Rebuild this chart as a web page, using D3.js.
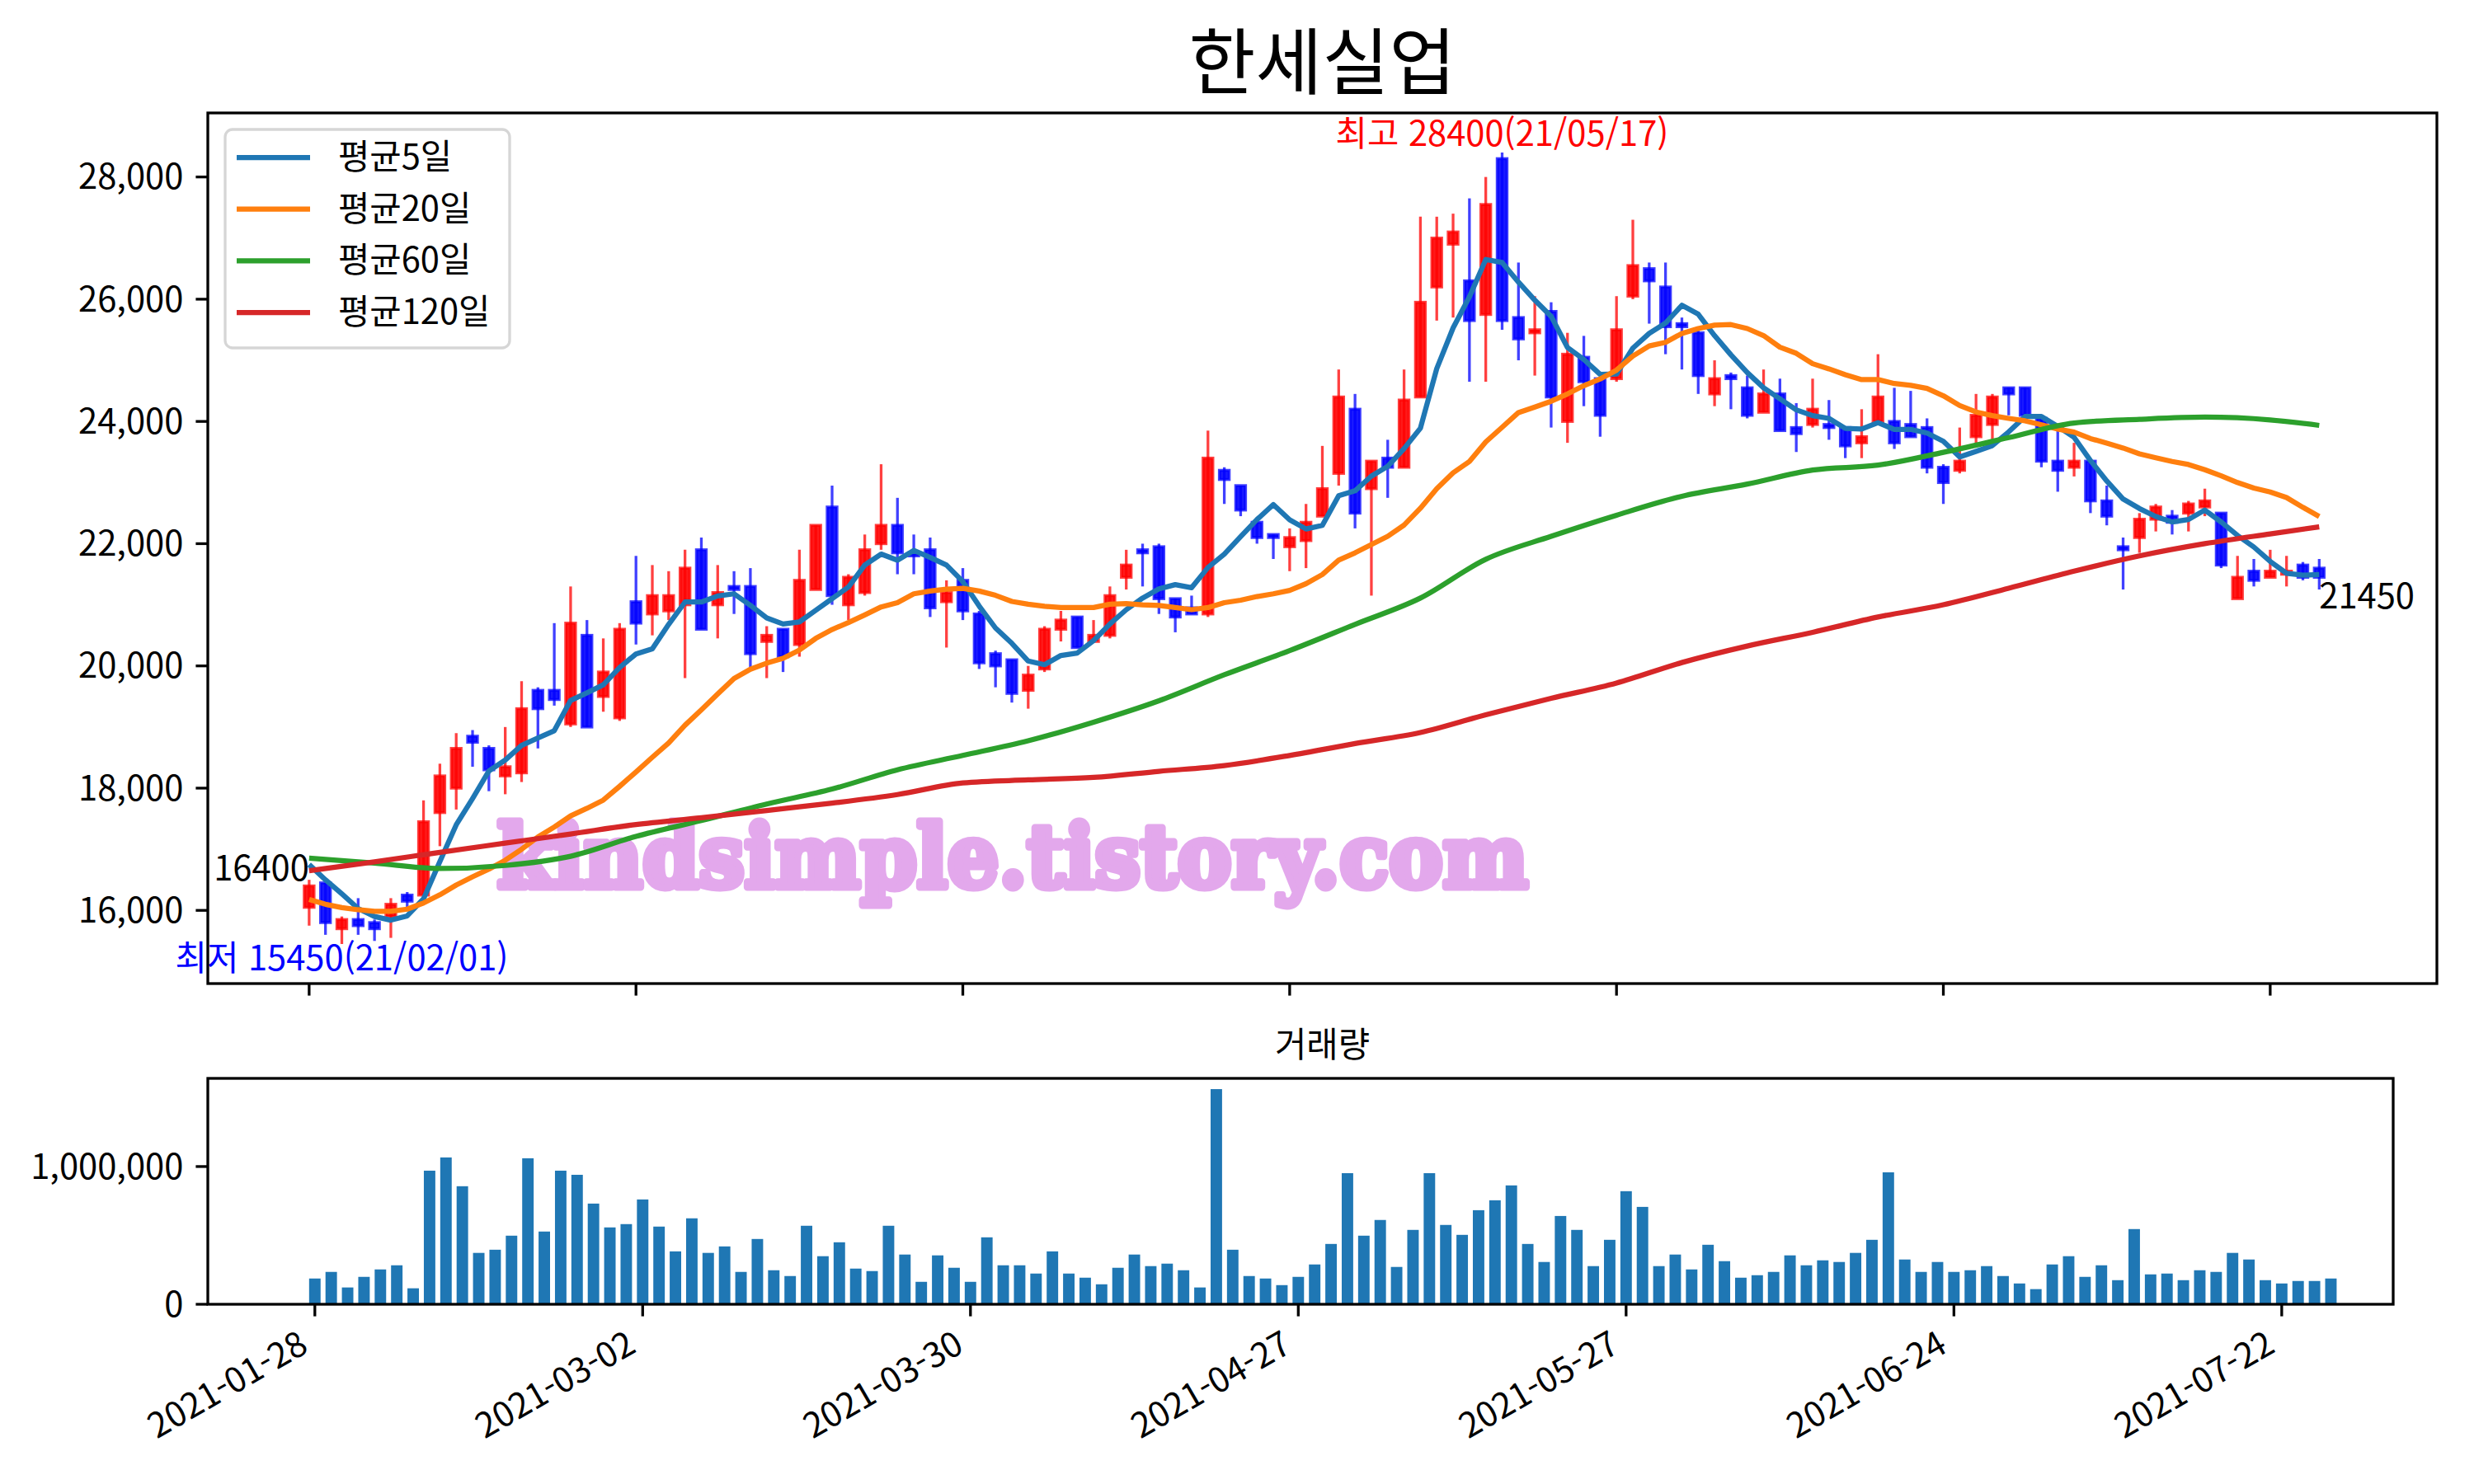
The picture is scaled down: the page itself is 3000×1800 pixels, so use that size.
<!DOCTYPE html>
<html lang="ko">
<head>
<meta charset="UTF-8">
<title>한세실업</title>
<script src="https://d3js.org/d3.v7.min.js"></script>
<style>
  body { margin: 0; background: #fff; }
  text { font-family: "Noto Sans CJK KR", "Noto Sans", sans-serif; }
</style>
</head>
<body>
<svg width="3000" height="1800"></svg>
<script>
// daily candles, 2021-01-28 .. 2021-07-27 (index 0..123)
const opens = [16050,16450,15700,15850,15800,15900,16250,16250,17600,18000,
  18850,18650,18200,18250,19600,19600,19050,20500,19500,19150,
  21050,20850,20900,21000,21900,21000,21300,21300,20400,20600,
  20350,21250,22600,21000,21200,22000,22300,21850,21900,21050,
  21400,20850,20200,20100,19600,19950,20600,20800,20400,20500,
  21450,21900,21950,21100,20950,20850,23200,22950,22350,22150,
  21950,22050,22450,23150,24200,22900,23400,23250,24400,26200,
  26900,26300,25750,28300,25700,25450,25800,24000,25050,24700,
  24700,26050,26500,26200,25600,25450,24450,24750,24550,24150,
  24450,23900,23950,23950,23900,23650,24000,24000,23950,23900,
  23250,23200,23750,23950,24550,24550,24050,23350,23250,23350,
  22700,21950,22100,22400,22450,22500,22600,22500,21100,21550,
  21450,21500,21650,21600];
const highs = [16500,16450,15900,16200,15850,16200,16300,17800,18400,18900,
  18950,18700,19000,19750,19650,20700,21300,20750,20450,20700,
  21800,21650,21550,21900,22100,21650,21550,21600,20650,20600,
  21900,22300,22950,21500,22150,23300,22750,22150,22100,21400,
  21600,20900,20250,20100,20000,20650,20900,20800,20750,21300,
  21900,22000,22000,21100,21150,23850,23250,22950,22350,22150,
  22250,22650,23600,24850,24450,23350,23700,24850,27350,27350,
  27400,27650,28000,28400,26600,26050,25950,25450,25400,24700,
  26050,27300,26600,26600,25700,25500,25000,24800,24750,24850,
  24700,24300,24700,24350,23900,24200,25100,24550,24500,24050,
  23300,23900,24450,24450,24550,24550,24050,23900,23650,23350,
  22950,22100,22500,22650,22550,22700,22900,22500,21800,21750,
  21900,21800,21700,21750];
const lows = [15750,15600,15450,15600,15500,15550,16050,16200,17050,17650,
  18350,17950,17900,18100,18650,19350,19000,19000,19250,19100,
  20350,20500,20750,19800,20600,20450,20850,19950,19800,19900,
  20150,21250,21000,20750,21150,21900,21500,21500,20800,20300,
  20750,19950,19650,19400,19300,19900,20400,20300,20400,20450,
  21250,21300,20850,20550,20850,20800,22650,22450,22000,21750,
  21550,21600,22450,22950,22250,21150,22750,23250,24400,25650,
  25700,24650,24650,25500,25000,24750,23900,23650,24250,23750,
  24650,26000,25600,25100,24850,24450,24250,24200,24050,24150,
  23850,23500,23900,23700,23400,23400,24000,23550,23750,23150,
  22650,23150,23650,23700,24100,24100,23250,22850,23100,22500,
  22300,21250,21850,22200,22150,22200,22450,21600,21100,21300,
  21450,21300,21400,21250];
const closes = [16400,15800,15850,15750,15700,16100,16150,17450,18200,18650,
  18750,18300,18350,19300,19300,19450,20700,19000,19900,20600,
  20700,21150,21150,21600,20600,21200,21250,20200,20500,20150,
  21400,22300,21150,21450,21900,22300,21850,21800,20950,21200,
  20900,20050,20000,19550,19850,20600,20750,20300,20500,21150,
  21650,21850,21100,20800,20850,23400,23050,22550,22100,22100,
  22100,22350,22900,24400,22500,23350,23250,24350,25950,27000,
  27100,25650,27550,25650,25350,25500,24400,25100,24650,24100,
  25500,26550,26300,25550,25550,24750,24700,24700,24100,24450,
  23850,23800,24200,23900,23600,23750,24400,23650,23750,23250,
  23000,23350,24100,24400,24450,24100,23350,23200,23350,22700,
  22450,21900,22400,22600,22350,22650,22700,21650,21450,21400,
  21550,21550,21450,21450];
const volumes = [187000,235000,122000,199000,253000,283000,116000,970000,1066000,857000,
  373000,396000,498000,1060000,528000,970000,940000,731000,558000,582000,
  761000,564000,384000,624000,373000,420000,235000,474000,247000,205000,
  570000,349000,450000,259000,241000,570000,361000,163000,355000,265000,
  163000,486000,283000,283000,223000,384000,223000,193000,145000,265000,
  361000,277000,295000,247000,122000,1562000,396000,205000,187000,139000,
  199000,289000,438000,952000,498000,612000,271000,540000,952000,576000,
  504000,683000,755000,863000,438000,307000,641000,540000,277000,468000,
  821000,707000,277000,361000,253000,432000,313000,193000,211000,235000,
  355000,283000,319000,307000,373000,468000,958000,325000,235000,307000,
  235000,247000,277000,205000,151000,110000,289000,349000,199000,283000,
  175000,546000,217000,223000,175000,247000,235000,373000,325000,175000,
  151000,169000,169000,187000];

// moving averages
const ma5 = [16750,16500,16270,16030,15900,15840,15910,16190,16800,17400,
  17830,18280,18460,18700,18820,18940,19435,19560,19690,19975,
  20195,20280,20680,21045,21045,21145,21180,20990,20785,20685,
  20720,20910,21100,21290,21650,21830,21730,21890,21775,21650,
  21380,20980,20620,20370,20080,20020,20170,20210,20415,20685,
  20920,21110,21260,21330,21280,21610,21830,22115,22395,22640,
  22390,22240,22300,22785,22865,23105,23265,23555,23890,24865,
  25530,26040,26650,26600,26280,25985,25720,25210,25015,24770,
  24775,25200,25440,25610,25900,25755,25405,25090,24800,24550,
  24370,24190,24095,24050,23885,23875,23980,23870,23870,23810,
  23675,23420,23510,23605,23830,24080,24080,23920,23740,23360,
  23025,22730,22575,22445,22355,22395,22550,22355,22135,21945,
  21710,21515,21485,21495];
const ma20 = [16180,16100,16045,16010,15985,15985,16020,16120,16255,16415,
  16550,16675,16820,17000,17200,17365,17545,17670,17805,18030,
  18265,18505,18740,19030,19280,19540,19795,19945,20045,20125,
  20260,20450,20595,20710,20835,20965,21035,21180,21225,21255,
  21270,21225,21155,21055,21010,20975,20955,20955,20955,21010,
  21020,21000,20990,20955,20920,20955,21035,21075,21135,21180,
  21235,21345,21495,21730,21850,21985,22120,22305,22580,22900,
  23160,23345,23665,23905,24145,24235,24330,24450,24585,24695,
  24840,25070,25235,25295,25440,25520,25575,25585,25520,25405,
  25215,25115,24945,24860,24765,24685,24685,24620,24590,24540,
  24420,24260,24155,24095,24050,24010,23945,23875,23825,23720,
  23645,23565,23470,23405,23345,23295,23210,23110,23000,22910,
  22845,22755,22595,22445];
const maIdx = [0,4,8,12,16,20,24,28,32,36,40,44,48,52,56,60,64,68,72,76,
  80,84,88,92,96,100,104,108,112,116,120,123];
const ma60 = [16855,16775,16685,16735,16885,17210,17470,17740,17985,18300,
  18535,18775,19080,19430,19855,20250,20680,21110,21745,22120,
  22465,22775,22975,23205,23285,23495,23735,23975,24035,24070,
  24025,23935];
const ma120 = [16650,16795,16950,17100,17250,17405,17515,17635,17755,17895,
  18085,18135,18175,18275,18370,18535,18730,18910,19200,19470,
  19720,20055,20325,20550,20800,21000,21270,21550,21800,22000,
  22160,22275];

const tickIdx = [0, 20, 40, 60, 80, 100, 120];
const tickLabels = ["2021-01-28", "2021-03-02", "2021-03-30", "2021-04-27",
  "2021-05-27", "2021-06-24", "2021-07-22"];
const priceTicks = [16000, 18000, 20000, 22000, 24000, 26000, 28000];
const volTicks = [0, 1000000];
const maNames = ["평균5일", "평균20일", "평균60일", "평균120일"];
const maColors = ["#1f77b4", "#ff7f0e", "#2ca02c", "#d62728"];

const svg = d3.select("svg");
svg.append("rect").attr("width", 3000).attr("height", 1800).attr("fill", "#fff");

const up = {l: 252, r: 2955, t: 137, b: 1193};
const lo = {l: 252, r: 2902, t: 1308, b: 1582};
const fmt = d3.format(",");
const fs = 41.7;
const spine = 3.3;
const tickLen = 14.6;

const xUp = d3.scaleLinear().domain([-6.2, 130.2]).range([up.l, up.r]);
const hiMax = d3.max(highs), loMin = d3.min(lows);
const pad = (hiMax - loMin) * 0.05;
const yUp = d3.scaleLinear().domain([loMin - pad, hiMax + pad]).range([up.b, up.t]);

const xLo = d3.scaleLinear().domain([-6.53, 126.8]).range([lo.l, lo.r]);
const yLo = d3.scaleLinear().domain([0, d3.max(volumes) * 1.05]).range([lo.b, lo.t]);

// title
svg.append("text")
    .attr("x", (up.l + up.r) / 2).attr("y", 107)
    .attr("text-anchor", "middle")
    .attr("font-size", 88)
    .text("한세실업");

// watermark
svg.append("text")
    .attr("x", 1228).attr("y", 1076)
    .attr("text-anchor", "middle")
    .attr("font-weight", "bold")
    .attr("font-size", 104)
    .attr("textLength", 1250)
    .attr("lengthAdjust", "spacingAndGlyphs")
    .attr("fill", "#e3a8ec")
    .attr("stroke", "#e3a8ec")
    .attr("stroke-width", 9)
    .attr("stroke-linejoin", "round")
    .style("font-family", "DejaVu Serif")
    .text("kindsimple.tistory.com");

// candles
const candleW = (xUp(0.6) - xUp(0));
const g = svg.append("g");
opens.forEach(function(o, i) {
    const c = closes[i];
    const col = c >= o ? "#ff0000" : "#0000ff";
    g.append("line")
        .attr("x1", xUp(i)).attr("x2", xUp(i))
        .attr("y1", yUp(highs[i])).attr("y2", yUp(lows[i]))
        .attr("stroke", col).attr("stroke-opacity", 0.75)
        .attr("stroke-width", 3.3);
    g.append("rect")
        .attr("x", xUp(i) - candleW / 2)
        .attr("y", yUp(Math.max(o, c)))
        .attr("width", candleW)
        .attr("height", Math.abs(yUp(o) - yUp(c)))
        .attr("fill", col).attr("fill-opacity", 0.9)
        .attr("stroke", col).attr("stroke-opacity", 0.75)
        .attr("stroke-width", 3.5);
});

// moving averages
const lineAll = d3.line().x((d, i) => xUp(i)).y(d => yUp(d));
const lineSparse = d3.line().x(d => xUp(d[0])).y(d => yUp(d[1])).curve(d3.curveMonotoneX);
const maPaths = [
    lineAll(ma5),
    lineAll(ma20),
    lineSparse(maIdx.map((k, j) => [k, ma60[j]])),
    lineSparse(maIdx.map((k, j) => [k, ma120[j]]))
];
maPaths.forEach(function(p, j) {
    svg.append("path").attr("d", p)
        .attr("fill", "none")
        .attr("stroke", maColors[j])
        .attr("stroke-width", 6.25)
        .attr("stroke-linejoin", "round");
});

// annotations
const iMax = highs.indexOf(hiMax), iMin = lows.indexOf(loMin);
svg.append("text")
    .attr("x", xUp(iMax)).attr("y", yUp(hiMax) - 8)
    .attr("text-anchor", "middle").attr("font-size", fs)
    .attr("fill", "#ff0000")
    .text("최고 " + hiMax + "(21/05/17)");
svg.append("text")
    .attr("x", xUp(iMin)).attr("y", yUp(loMin) + 32)
    .attr("text-anchor", "middle").attr("font-size", fs)
    .attr("fill", "#0000ff")
    .text("최저 " + loMin + "(21/02/01)");
svg.append("text")
    .attr("x", xUp(0)).attr("y", yUp(closes[0]) - 7)
    .attr("text-anchor", "end").attr("font-size", fs)
    .text(closes[0]);
const last = closes.length - 1;
svg.append("text")
    .attr("x", xUp(last)).attr("y", yUp(closes[last]) + 38)
    .attr("text-anchor", "start").attr("font-size", fs)
    .text(closes[last]);

// legend
const lg = svg.append("g");
lg.append("rect")
    .attr("x", 273).attr("y", 157).attr("width", 345).attr("height", 265)
    .attr("rx", 9)
    .attr("fill", "#fff").attr("fill-opacity", 0.8)
    .attr("stroke", "#d6d6d6").attr("stroke-width", 3.3);
maNames.forEach(function(n, j) {
    const yy = 191 + j * 62.7;
    lg.append("line")
        .attr("x1", 287).attr("x2", 376).attr("y1", yy).attr("y2", yy)
        .attr("stroke", maColors[j]).attr("stroke-width", 6.25);
    lg.append("text")
        .attr("x", 410).attr("y", yy + 14)
        .attr("font-size", fs)
        .text(n);
});

// upper axes
priceTicks.forEach(function(v) {
    svg.append("line")
        .attr("x1", up.l - tickLen).attr("x2", up.l)
        .attr("y1", yUp(v)).attr("y2", yUp(v))
        .attr("stroke", "#000").attr("stroke-width", spine);
    svg.append("text")
        .attr("x", up.l - tickLen - 15).attr("y", yUp(v))
        .attr("dy", "0.35em")
        .attr("text-anchor", "end").attr("font-size", fs)
        .text(fmt(v));
});
tickIdx.forEach(function(k) {
    svg.append("line")
        .attr("x1", xUp(k)).attr("x2", xUp(k))
        .attr("y1", up.b).attr("y2", up.b + tickLen)
        .attr("stroke", "#000").attr("stroke-width", spine);
});
svg.append("rect")
    .attr("x", up.l).attr("y", up.t)
    .attr("width", up.r - up.l).attr("height", up.b - up.t)
    .attr("fill", "none").attr("stroke", "#000").attr("stroke-width", spine);

// volume
const barW = xLo(0.7) - xLo(0);
svg.append("g").selectAll("rect")
    .data(volumes)
    .enter()
    .append("rect")
    .attr("x", (d, i) => xLo(i) - barW / 2)
    .attr("y", d => yLo(d))
    .attr("width", barW)
    .attr("height", d => yLo(0) - yLo(d))
    .attr("fill", "#1f77b4");

svg.append("text")
    .attr("x", (up.l + up.r) / 2).attr("y", lo.t - 26)
    .attr("text-anchor", "middle").attr("font-size", fs)
    .text("거래량");

volTicks.forEach(function(v) {
    svg.append("line")
        .attr("x1", lo.l - tickLen).attr("x2", lo.l)
        .attr("y1", yLo(v)).attr("y2", yLo(v))
        .attr("stroke", "#000").attr("stroke-width", spine);
    svg.append("text")
        .attr("x", lo.l - tickLen - 15).attr("y", yLo(v))
        .attr("dy", "0.35em")
        .attr("text-anchor", "end").attr("font-size", fs)
        .text(fmt(v));
});
tickIdx.forEach(function(k, j) {
    svg.append("line")
        .attr("x1", xLo(k)).attr("x2", xLo(k))
        .attr("y1", lo.b).attr("y2", lo.b + tickLen)
        .attr("stroke", "#000").attr("stroke-width", spine);
    const tx = xLo(k) - 6, ty = lo.b + tickLen + 42;
    svg.append("text")
        .attr("transform", "translate(" + tx + "," + ty + ") rotate(-30)")
        .attr("text-anchor", "end").attr("font-size", fs)
        .text(tickLabels[j]);
});
svg.append("rect")
    .attr("x", lo.l).attr("y", lo.t)
    .attr("width", lo.r - lo.l).attr("height", lo.b - lo.t)
    .attr("fill", "none").attr("stroke", "#000").attr("stroke-width", spine);
</script>
</body>
</html>
